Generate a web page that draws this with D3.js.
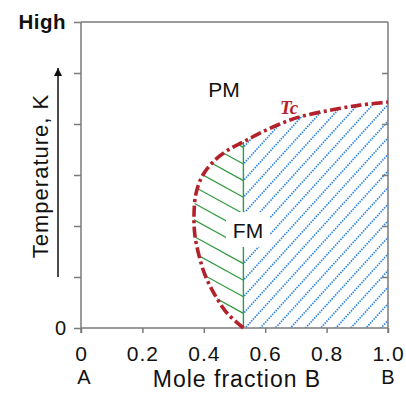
<!DOCTYPE html>
<html><head><meta charset="utf-8">
<script src="https://cdn.jsdelivr.net/npm/d3@7"></script>
<style>body{margin:0;background:#fff}svg{display:block}</style>
</head><body>
<script>
// ---- data ----
const xTicks = [0, 0.2, 0.4, 0.6, 0.8, 1.0];
const xTickLabels = ["0", "0.2", "0.4", "0.6", "0.8", "1.0"];
const yTicks = [0, 1, 2, 3, 4, 5, 6];
const yTickLabels = ["0", "", "", "", "", "", "High"];
// Tc curve: lower (FM) branch then upper branch
const curveX = [0.529, 0.476, 0.436, 0.404, 0.384, 0.371, 0.368, 0.375, 0.397, 0.436, 0.479, 0.529, 0.583, 0.648, 0.713, 0.811, 0.909, 1.0];
const curveT = [0, 0.29, 0.65, 1.04, 1.43, 1.82, 2.2, 2.65, 3.0, 3.29, 3.49, 3.65, 3.82, 4.0, 4.14, 4.27, 4.37, 4.43];
const splitIndex = 11; // point where curve meets x = 0.529
const xSplit = 0.529;
const regionLabels = [{t: "PM", x: 0.466, y: 4.67}, {t: "FM", x: 0.544, y: 1.92}];

const W = 406, H = 393;
const m = {l: 81, r: 18, t: 22, b: 65};
const x = d3.scaleLinear().domain([0, 1]).range([m.l, W - m.r]);
const y = d3.scaleLinear().domain([0, 6]).range([H - m.b, m.t]);

const svg = d3.select("body").append("svg").attr("width", W).attr("height", H);
const pts = curveX.map((v, i) => [v, curveT[i]]);
const line = d3.line().x(d => x(d[0])).y(d => y(d[1])).curve(d3.curveCatmullRom.alpha(0.5));

const defs = svg.append("defs");
const greenPts = pts.slice(0, splitIndex + 1);
defs.append("clipPath").attr("id", "cg").append("path")
  .attr("d", line(greenPts) + "Z");
const bluePts = pts.slice(splitIndex);
defs.append("clipPath").attr("id", "cb").append("path")
  .attr("d", line(bluePts) + `L${x(1)},${y(0)}L${x(xSplit)},${y(0)}Z`);

// hatching anchored on the vertical boundary
const xv = x(xSplit), s = 16.6, y0 = y(0) + 2;
const gG = svg.append("g").attr("clip-path", "url(#cg)");
const gB = svg.append("g").attr("clip-path", "url(#cb)");
for (let k = -25; k <= 25; k++) {
  const ya = y0 - k * s;
  gG.append("line").attr("x1", xv).attr("y1", ya).attr("x2", xv - 300).attr("y2", ya - 300 * 0.55)
    .attr("stroke", "#2f9a3f").attr("stroke-width", 1.2);
  gB.append("line").attr("x1", xv - 300).attr("y1", ya + 300 * 1.1).attr("x2", xv + 400).attr("y2", ya - 400 * 1.1)
    .attr("stroke", "#2f86e0").attr("stroke-width", 1.7).attr("stroke-dasharray", "1.5,1.1");
}
// vertical boundary
svg.append("line").attr("x1", xv).attr("x2", xv).attr("y1", y(0)).attr("y2", y(curveT[splitIndex]))
  .attr("stroke", "#2f9a3f").attr("stroke-width", 1.4);

// FM label box
const fm = regionLabels[1];
svg.append("rect").attr("x", x(fm.x) - 22).attr("y", y(fm.y) - 18).attr("width", 44).attr("height", 35).attr("fill", "#fff");

// axes frame
const ax = "#7a7a7a";
svg.append("line").attr("x1", x(0)).attr("x2", x(0)).attr("y1", y(6)).attr("y2", y(0) + 5).attr("stroke", ax).attr("stroke-width", 1.5);
svg.append("line").attr("x1", x(1)).attr("x2", x(1)).attr("y1", y(6)).attr("y2", y(0) + 5).attr("stroke", ax).attr("stroke-width", 1.5);
svg.append("line").attr("x1", x(0)).attr("x2", x(1)).attr("y1", y(0)).attr("y2", y(0)).attr("stroke", ax).attr("stroke-width", 1.5);
svg.append("line").attr("x1", x(0)).attr("x2", x(1)).attr("y1", y(6)).attr("y2", y(6)).attr("stroke", ax).attr("stroke-width", 1.5);

const font = "Liberation Sans, Arial, sans-serif";
const xAxis = svg.append("g").attr("transform", `translate(0,${y(0)})`)
  .call(d3.axisBottom(x).tickValues(xTicks).tickFormat((d, i) => xTickLabels[i]).tickSize(5).tickPadding(13));
xAxis.select(".domain").remove();
xAxis.selectAll(".tick line").attr("stroke", ax).attr("stroke-width", 1.5);
xAxis.selectAll("text").attr("font-family", font).attr("font-size", 21).attr("fill", "#111").attr("letter-spacing", "1px");

const yAxis = svg.append("g").attr("transform", `translate(${x(0)},0)`)
  .call(d3.axisLeft(y).tickValues(yTicks).tickFormat((d, i) => yTickLabels[i]).tickSize(7).tickPadding(8));
yAxis.select(".domain").remove();
yAxis.selectAll(".tick line").attr("stroke", ax).attr("stroke-width", 1.5);
yAxis.selectAll("text").attr("font-family", font).attr("font-size", 20).attr("fill", "#111");
yAxis.selectAll(".tick").filter(d => d === 6).select("text").attr("font-weight", "bold").attr("font-size", 20.5).attr("letter-spacing", "0.5px");

const yR = svg.append("g").attr("transform", `translate(${x(1)},0)`)
  .call(d3.axisLeft(y).tickValues(yTicks.slice(1, -1)).tickFormat("").tickSize(6));
yR.select(".domain").remove();
yR.selectAll(".tick line").attr("stroke", ax).attr("stroke-width", 1.5).attr("x2", -6);

// Tc curve
svg.append("path").attr("d", line(pts)).attr("fill", "none").attr("stroke", "#b3222a")
  .attr("stroke-width", 3.6).attr("stroke-dasharray", "11,3.5,3,3.5").attr("stroke-linecap", "butt");
svg.append("text").attr("x", x(0.648)).attr("y", y(4.2)).text("Tc")
  .attr("font-family", "Liberation Serif, Times New Roman, serif").attr("font-style", "italic").attr("font-weight", "bold")
  .attr("font-size", 19).attr("fill", "#b3222a");

// region labels
regionLabels.forEach(r => {
  svg.append("text").attr("x", x(r.x)).attr("y", y(r.y)).attr("text-anchor", "middle").attr("dominant-baseline", "central")
    .attr("font-family", font).attr("font-size", 21).attr("fill", "#111").text(r.t);
});

// axis titles
svg.append("text").attr("x", 237).attr("y", 387).attr("text-anchor", "middle")
  .attr("font-family", font).attr("font-size", 23).attr("letter-spacing", "1px").attr("fill", "#111").text("Mole fraction B");
svg.append("text").attr("x", x(0) + 3).attr("y", 384).attr("text-anchor", "middle")
  .attr("font-family", font).attr("font-size", 20).attr("fill", "#111").text("A");
svg.append("text").attr("x", x(1)).attr("y", 384).attr("text-anchor", "middle")
  .attr("font-family", font).attr("font-size", 20).attr("fill", "#111").text("B");
svg.append("text").attr("transform", `translate(48,176) rotate(-90)`).attr("text-anchor", "middle")
  .attr("font-family", font).attr("font-size", 22).attr("letter-spacing", "1px").attr("fill", "#111").text("Temperature, K");

// arrow
defs.append("marker").attr("id", "ar").attr("viewBox", "0 0 10 10").attr("refX", 10).attr("refY", 5)
  .attr("markerWidth", 10).attr("markerHeight", 8).attr("markerUnits", "userSpaceOnUse").attr("orient", "auto")
  .append("path").attr("d", "M0,0L10,5L0,10Z").attr("fill", "#111");
svg.append("line").attr("x1", 58).attr("x2", 58).attr("y1", y(1)).attr("y2", y(5.1))
  .attr("stroke", "#111").attr("stroke-width", 1.5).attr("marker-end", "url(#ar)");
</script>
</body></html>
